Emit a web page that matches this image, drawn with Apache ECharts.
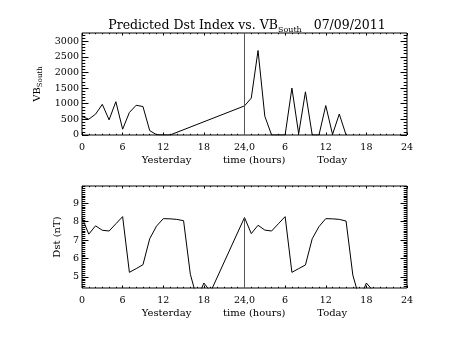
<!DOCTYPE html>
<html>
<head>
<meta charset="utf-8">
<script src="https://cdn.jsdelivr.net/npm/echarts@6/dist/echarts.min.js"></script>
<style>
  html, body { margin: 0; padding: 0; background: #fff; }
  #chart { width: 453px; height: 340px; }
</style>
</head>
<body>
<div id="chart"></div>
<script>
// Hours since start of yesterday (0-24 yesterday, 24-48 today)
const hoursVB = [0, 1, 2, 3, 4, 5, 6, 7, 8, 9, 10, 11, 12, 13,
                 24, 25, 26, 27, 28, 29, 30, 31, 32, 33, 34, 35, 36, 37, 38, 39];
const vbSouth = [590, 505, 665, 980, 485, 1065, 185, 720, 950, 910, 140, 10, 0, 0,
                 930, 1180, 2700, 600, 0, 0, 0, 1500, 40, 1380, 0, 0, 940, 20, 670, 0];

const hoursDst = [0, 1, 2, 3, 4, 5, 6, 7, 8, 9, 10, 11, 12, 13, 14, 15, 16, 17, 18, 19,
                  24, 25, 26, 27, 28, 29, 30, 31, 32, 33, 34, 35, 36, 37, 38, 39, 40, 41, 42, 43];
const dst = [8.22, 7.32, 7.77, 7.53, 7.49, 7.88, 8.27, 5.25, 5.45, 5.66, 7.07, 7.75, 8.16, 8.15, 8.12, 8.05, 5.15, 3.8, 4.67, 4.2,
             8.22, 7.35, 7.8, 7.54, 7.49, 7.88, 8.27, 5.25, 5.45, 5.65, 7.07, 7.73, 8.16, 8.15, 8.12, 8.03, 5.1, 3.8, 4.67, 4.25];

// Axis ticks and labels
const hourTicks = [0, 6, 12, 18, 24, 30, 36, 42, 48];
const vbTicks = [0, 500, 1000, 1500, 2000, 2500, 3000];
const dstTicks = [5, 6, 7, 8, 9];
const dayBoundary = 24;

const vbRange = [0, 3260];
const dstRange = [4.4, 9.93];

const FONT = 'DejaVu Serif';
const INK = '#000';

function steps(from, to, step) {
  const out = [];
  for (let v = from; v <= to + 1e-9; v += step) out.push(Math.round(v * 1000) / 1000);
  return out;
}
const hourMinor = steps(0, 48, 1);
const vbMinor = steps(0, 3200, 100);
const dstMinor = steps(4.5, 9.9, 0.1);

function hourLabel(v) {
  if (v === 24) return '24,0';
  return String(v > 24 ? v - 24 : v);
}

// Box-style axes: labelled bottom/left, plus tick-only copies on every side
function xAxesFor(grid) {
  const base = {
    type: 'value', gridIndex: grid, min: 0, max: 48,
    axisLine: { show: false, onZero: false }, splitLine: { show: false }
  };
  return [
    Object.assign({}, base, {
      position: 'bottom',
      axisTick: { inside: true, length: 2.5, customValues: hourTicks, lineStyle: { color: INK } },
      axisLabel: { customValues: hourTicks, formatter: hourLabel, margin: 8,
                   fontFamily: FONT, fontSize: 9.5, color: INK },
      name: 'Yesterday          time (hours)          Today',
      nameLocation: 'middle', nameGap: 20,
      nameTextStyle: { fontFamily: FONT, fontSize: 10, color: INK }
    }),
    Object.assign({}, base, {
      position: 'bottom',
      axisTick: { inside: true, length: 1.2, customValues: hourMinor, lineStyle: { color: INK } },
      axisLabel: { show: false }
    }),
    Object.assign({}, base, {
      position: 'top',
      axisTick: { inside: true, length: 2.5, customValues: hourTicks, lineStyle: { color: INK } },
      axisLabel: { show: false }
    }),
    Object.assign({}, base, {
      position: 'top',
      axisTick: { inside: true, length: 1.2, customValues: hourMinor, lineStyle: { color: INK } },
      axisLabel: { show: false }
    })
  ];
}

function yAxesFor(grid, range, major, minor, name, nameGap, rich) {
  const base = {
    type: 'value', gridIndex: grid, min: range[0], max: range[1],
    axisLine: { show: false, onZero: false }, splitLine: { show: false }
  };
  return [
    Object.assign({}, base, {
      position: 'left',
      axisTick: { inside: true, length: 6.5, customValues: major, lineStyle: { color: INK } },
      axisLabel: { customValues: major, formatter: v => String(v), margin: 3,
                   fontFamily: FONT, fontSize: 9.5, color: INK },
      name: name, nameLocation: 'middle', nameRotate: 90, nameGap: nameGap,
      nameTextStyle: { fontFamily: FONT, fontSize: 10, color: INK, rich: rich }
    }),
    Object.assign({}, base, {
      position: 'left',
      axisTick: { inside: true, length: 3.3, customValues: minor, lineStyle: { color: INK } },
      axisLabel: { show: false }
    }),
    Object.assign({}, base, {
      position: 'right',
      axisTick: { inside: true, length: 6.5, customValues: major, lineStyle: { color: INK } },
      axisLabel: { show: false }
    }),
    Object.assign({}, base, {
      position: 'right',
      axisTick: { inside: true, length: 3.3, customValues: minor, lineStyle: { color: INK } },
      axisLabel: { show: false }
    })
  ];
}

const subRich = {
  s: { fontFamily: FONT, fontSize: 7, color: INK, padding: [7, 0, 0, 0] }
};

const chart = echarts.init(document.getElementById('chart'), null, { renderer: 'canvas' });

const dstAtBoundary = dst[hoursDst.indexOf(dayBoundary)];

chart.setOption({
  backgroundColor: '#fff',
  animation: false,
  title: {
    text: 'Predicted Dst Index vs. VB{s|South}   {d|07/09/2011}',
    left: 242, top: 12, textAlign: 'center',
    textStyle: {
      fontFamily: FONT, fontSize: 12.5, fontWeight: 'normal', color: INK,
      rich: {
        s: { fontFamily: FONT, fontSize: 8, color: INK, padding: [9, 0, 0, 0] },
        d: { fontFamily: FONT, fontSize: 12.5, color: INK }
      }
    }
  },
  grid: [
    { left: 82, top: 33, width: 325, height: 102, show: true, borderColor: INK, borderWidth: 1, backgroundColor: 'transparent' },
    { left: 82, top: 186, width: 325, height: 102, show: true, borderColor: INK, borderWidth: 1, backgroundColor: 'transparent' }
  ],
  xAxis: xAxesFor(0).concat(xAxesFor(1)),
  yAxis: yAxesFor(0, vbRange, vbTicks, vbMinor, 'VB{s|South}', 23, subRich)
    .concat(yAxesFor(1, dstRange, dstTicks, dstMinor, 'Dst (nT)', 10, subRich)),
  series: [
    {
      type: 'line', xAxisIndex: 0, yAxisIndex: 0,
      data: hoursVB.map((h, i) => [h, vbSouth[i]]),
      symbol: 'none', lineStyle: { color: INK, width: 1 }, clip: true,
      markLine: {
        silent: true, symbol: ['none', 'none'], label: { show: false },
        lineStyle: { color: '#555', width: 1, type: 'solid' },
        data: [{ xAxis: dayBoundary }]
      }
    },
    {
      type: 'line', xAxisIndex: 4, yAxisIndex: 4,
      data: hoursDst.map((h, i) => [h, dst[i]]),
      symbol: 'none', lineStyle: { color: INK, width: 1 }, clip: true,
      markLine: {
        silent: true, symbol: ['none', 'none'], label: { show: false },
        lineStyle: { color: '#555', width: 1, type: 'solid' },
        data: [[{ coord: [dayBoundary, dstRange[0]] }, { coord: [dayBoundary, dstAtBoundary] }]]
      }
    }
  ]
});
</script>
</body>
</html>
